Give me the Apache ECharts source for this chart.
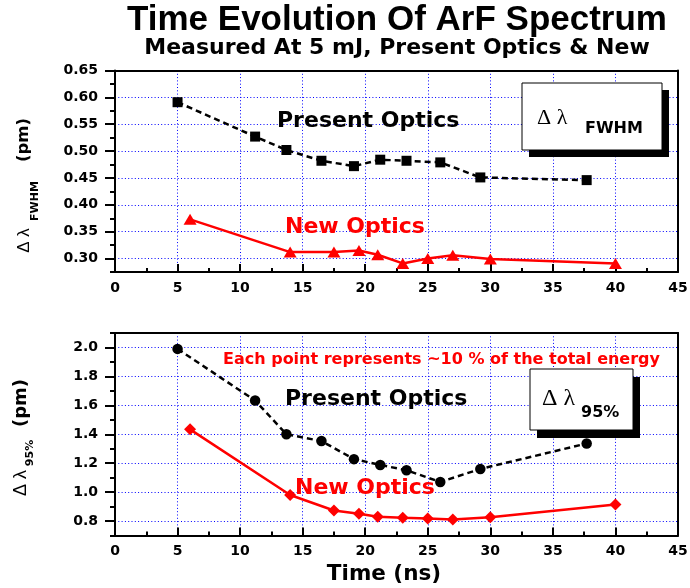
<!DOCTYPE html>
<html>
<head>
<meta charset="utf-8">
<script src="https://cdn.jsdelivr.net/npm/echarts@6/dist/echarts.min.js"></script>
<style>html,body{margin:0;padding:0;background:#fff}#c{width:690px;height:588px}</style>
</head>
<body>
<div id="c"></div>
<script>
// ---- data ----
const presentTimes = [5, 11.2, 13.7, 16.5, 19.1, 21.2, 23.3, 26.0, 29.2, 37.7];
const newTimes = [6, 14, 17.5, 19.5, 21, 23, 25, 27, 30, 40];
const fwhmPresent = [0.591, 0.527, 0.502, 0.482, 0.472, 0.484, 0.482, 0.479, 0.451, 0.446];
const fwhmNew = [0.373, 0.312, 0.312, 0.315, 0.307, 0.291, 0.300, 0.306, 0.299, 0.291];
const e95Present = [1.99, 1.633, 1.40, 1.353, 1.228, 1.188, 1.151, 1.07, 1.16, 1.336];
const e95New = [1.434, 0.98, 0.873, 0.85, 0.829, 0.822, 0.817, 0.81, 0.826, 0.915];

// ---- tick labels ----
const xLabelValues = [0, 5, 10, 15, 20, 25, 30, 35, 40, 45];
const xGridValues = [5, 10, 15, 20, 25, 30, 35, 40];
const fwhmTickValues = [0.30, 0.35, 0.40, 0.45, 0.50, 0.55, 0.60, 0.65];
const fwhmMinorValues = [0.275, 0.325, 0.375, 0.425, 0.475, 0.525, 0.575, 0.625];
const e95TickValues = [0.8, 1.0, 1.2, 1.4, 1.6, 1.8, 2.0];
const e95MinorValues = [0.7, 0.9, 1.1, 1.3, 1.5, 1.7, 1.9, 2.1];

const zip = (xs, ys) => xs.map((x, i) => [x, ys[i]]);

const gridLine = { show: true, lineStyle: { color: '#0000ff', width: 1, type: [1, 2.3] } };
const labelFont = { color: '#000', fontFamily: 'DejaVu Sans', fontWeight: 'bold', fontSize: 14 };
const blackLine = { color: '#000', width: 2 };

function mainX(gi) {
  return {
    gridIndex: gi, type: 'value', min: 0, max: 45, interval: 5, position: 'bottom', z: 0,
    axisLine: { show: true, onZero: false, lineStyle: blackLine },
    axisTick: { show: true, inside: true, length: 8, customValues: xGridValues, lineStyle: blackLine },
    minorTick: { show: true, splitNumber: 2, length: 4, lineStyle: { color: '#000', width: 2 } },
    axisLabel: Object.assign({ margin: 9, customValues: xLabelValues, hideOverlap: false, formatter: v => String(v) }, labelFont),
    splitLine: gridLine
  };
}
function frameX(gi) {
  return {
    gridIndex: gi, type: 'value', min: 0, max: 45, position: 'top', z: 1,
    axisLine: { show: true, onZero: false, lineStyle: blackLine },
    axisTick: { show: false }, minorTick: { show: false }, axisLabel: { show: false }, splitLine: { show: false }
  };
}
function mainY(gi, min, max, vals, digits) {
  return {
    gridIndex: gi, type: 'value', min: min, max: max, position: 'left', z: 0,
    axisLine: { show: true, onZero: false, lineStyle: blackLine },
    axisTick: { show: true, inside: false, length: 10, customValues: vals, lineStyle: blackLine },
    axisLabel: Object.assign({ margin: 17, customValues: vals, hideOverlap: false, formatter: v => v.toFixed(digits) }, labelFont),
    splitLine: gridLine
  };
}
function minorY(gi, min, max, vals) {
  return {
    gridIndex: gi, type: 'value', min: min, max: max, position: 'left', offset: 0, z: 0,
    axisLine: { show: false },
    axisTick: { show: true, inside: false, length: 5, customValues: vals, lineStyle: blackLine },
    axisLabel: { show: false }, splitLine: { show: false }
  };
}
function frameY(gi, min, max) {
  return {
    gridIndex: gi, type: 'value', min: min, max: max, position: 'right', z: 1,
    axisLine: { show: true, onZero: false, lineStyle: blackLine },
    axisTick: { show: false }, axisLabel: { show: false }, splitLine: { show: false }
  };
}

function txt(x, y, text, font, color, rot, align) {
  return {
    type: 'text', x: x, y: y, rotation: rot || 0, z: 10,
    style: { text: text, font: font, fill: color || '#000', textAlign: align || 'left', textVerticalAlign: 'middle', align: align || 'left', verticalAlign: 'middle' }
  };
}
function rect(x, y, w, h, fill, stroke) {
  return { type: 'rect', z: 9, shape: { x: x, y: y, width: w, height: h }, style: { fill: fill, stroke: stroke || null, lineWidth: stroke ? 1 : 0 } };
}

const f = (s) => 'bold ' + s + 'px "DejaVu Sans"';
const R = Math.PI / 2;

const option = {
  animation: false,
  backgroundColor: '#fff',
  grid: [
    { left: 115, right: 12, top: 70.5, height: 201.5, outerBoundsMode: 'none', containLabel: false },
    { left: 115, right: 12, top: 333, height: 202.5, outerBoundsMode: 'none', containLabel: false }
  ],
  xAxis: [mainX(0), frameX(0), mainX(1), frameX(1)],
  yAxis: [
    mainY(0, 0.275, 0.65, fwhmTickValues, 2), minorY(0, 0.275, 0.65, fwhmMinorValues), frameY(0, 0.275, 0.65),
    mainY(1, 0.7, 2.1, e95TickValues, 1), minorY(1, 0.7, 2.1, e95MinorValues), frameY(1, 0.7, 2.1)
  ],
  series: [
    { name: 'Present Optics FWHM', type: 'line', xAxisIndex: 0, yAxisIndex: 0, z: 3, data: zip(presentTimes, fwhmPresent),
      symbol: 'rect', symbolSize: 10, showAllSymbol: true,
      lineStyle: { color: '#000', width: 2.5, type: [6, 4] }, itemStyle: { color: '#000' } },
    { name: 'New Optics FWHM', type: 'line', xAxisIndex: 0, yAxisIndex: 0, z: 3, data: zip(newTimes, fwhmNew),
      symbol: 'triangle', symbolSize: [13, 11], showAllSymbol: true,
      lineStyle: { color: '#ff0000', width: 2.5 }, itemStyle: { color: '#ff0000' } },
    { name: 'Present Optics 95%', type: 'line', xAxisIndex: 2, yAxisIndex: 3, z: 3, data: zip(presentTimes, e95Present),
      symbol: 'circle', symbolSize: 10.5, showAllSymbol: true,
      lineStyle: { color: '#000', width: 2.5, type: [6, 4] }, itemStyle: { color: '#000' } },
    { name: 'New Optics 95%', type: 'line', xAxisIndex: 2, yAxisIndex: 3, z: 3, data: zip(newTimes, e95New),
      symbol: 'diamond', symbolSize: [12, 12], showAllSymbol: true,
      lineStyle: { color: '#ff0000', width: 2.5 }, itemStyle: { color: '#ff0000' } }
  ],
  graphic: [
    // titles
    txt(397, 20.5, 'Time Evolution Of ArF Spectrum', 'bold 35px "Liberation Sans"', '#000', 0, 'center'),
    txt(397, 48, 'Measured At 5 mJ, Present Optics & New', f(22), '#000', 0, 'center'),
    // top y-axis name
    txt(23.5, 140, '(pm)', f(16.5), '#000', R, 'center'),
    txt(35, 201, 'FWHM', f(11), '#000', R, 'center'),
    txt(24, 240.5, 'Δ λ', '17px "Liberation Sans"', '#000', R, 'center'),
    // bottom y-axis name
    txt(21.5, 403, '(pm)', f(18), '#000', R, 'center'),
    txt(30, 453, '95%', f(11), '#000', R, 'center'),
    txt(21.5, 483, 'Δ λ', '18px "Liberation Sans"', '#000', R, 'center'),
    // x-axis name
    txt(384, 574, 'Time (ns)', f(21.5), '#000', 0, 'center'),
    // annotations
    txt(277, 121.5, 'Present Optics', f(22), '#000'),
    txt(285, 227.5, 'New Optics', f(22), '#ff0000'),
    txt(285, 399, 'Present Optics', f(22), '#000'),
    txt(295, 488, 'New Optics', f(22), '#ff0000'),
    txt(223, 359.5, 'Each point represents ~10 % of the total energy', f(16), '#ff0000'),
    // legend box top
    rect(529, 90, 140, 67, '#000'),
    rect(522, 83, 140, 67, '#fff', '#000'),
    txt(537, 118, 'Δ λ', '22px "Liberation Serif"', '#000'),
    txt(585, 129, 'FWHM', f(16), '#000'),
    // legend box bottom
    rect(537, 377, 103, 61, '#000'),
    rect(530, 369, 103, 61, '#fff', '#000'),
    txt(542, 399, 'Δ λ', '24px "Liberation Serif"', '#000'),
    txt(581, 413, '95%', f(16), '#000')
  ]
};

const chart = echarts.init(document.getElementById('c'), null, { renderer: 'canvas' });
chart.setOption(option);
</script>
</body>
</html>
